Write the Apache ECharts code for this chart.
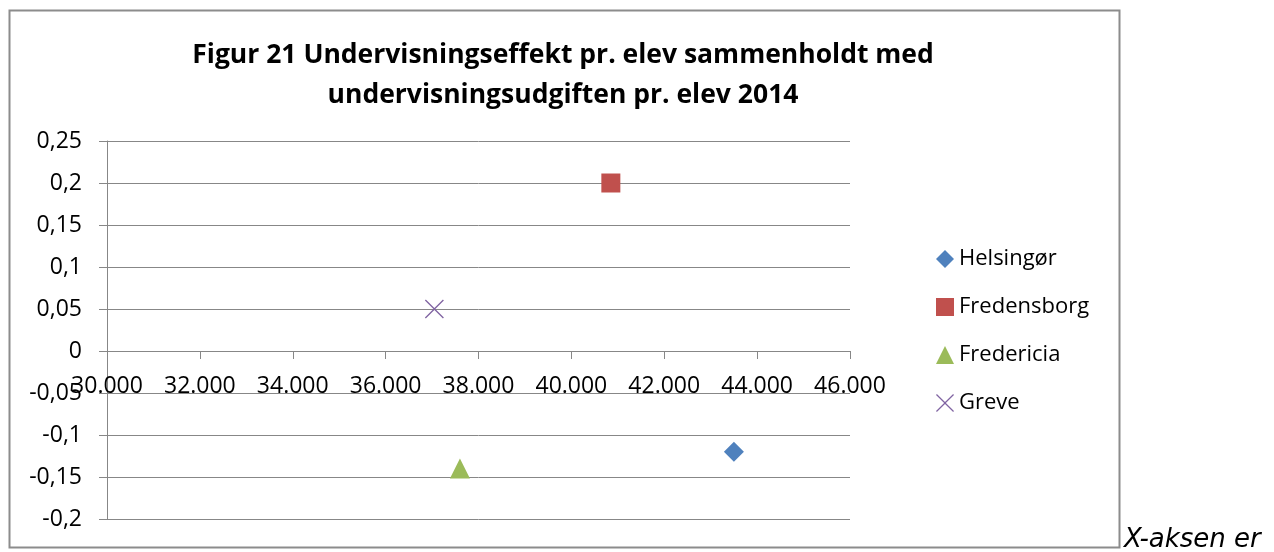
<!DOCTYPE html>
<html>
<head>
<meta charset="utf-8">
<script src="https://cdn.jsdelivr.net/npm/echarts@6/dist/echarts.min.js"></script>
<style>
  html, body { margin: 0; padding: 0; background: #fff; }
  #chart { width: 1274px; height: 552px; }
</style>
</head>
<body>
<div id="chart"></div>
<script>
    var fontFamily = 'Open Sans, Noto Sans, sans-serif';

    // data
    var seriesNames = ['Helsingør', 'Fredensborg', 'Fredericia', 'Greve'];
    var udgiftPrElev = [43500, 40850, 37600, 37050];        // x: undervisningsudgift pr. elev
    var effektPrElev = [-0.12, 0.2, -0.14, 0.05];           // y: undervisningseffekt pr. elev
    var xMin = 30000, xMax = 46000, xStep = 2000;
    var yMin = -0.2, yMax = 0.25, yStep = 0.05;
    var colors = ['#4F81BD', '#C0504D', '#9BBB59', '#8064A2'];
    var crossPath = 'path://M0,1L1,0L10,9L19,0L20,1L11,10L20,19L19,20L10,11L1,20L0,19L9,10Z';
    var symbols = ['diamond', 'rect', 'triangle', crossPath];
    var symbolSizes = [20, 19, 20, 19];

    var gridColor = '#878787';

    function fmtX(v) {
        var th = Math.floor(v / 1000);
        var rest = String(v % 1000);
        while (rest.length < 3) rest = '0' + rest;
        return th + '.' + rest;
    }

    function fmtY(v) {
        var r = Math.round(v * 100) / 100;
        return String(r).replace('.', ',');
    }

    var series = seriesNames.map(function (name, i) {
        return {
            name: name,
            type: 'scatter',
            symbol: symbols[i],
            symbolSize: symbolSizes[i],
            itemStyle: { color: colors[i], opacity: 1 },
            data: [[udgiftPrElev[i], effektPrElev[i]]],
            z: 5
        };
    });

    var chart = echarts.init(document.getElementById('chart'), null, { renderer: 'canvas' });
    chart.setOption({
        animation: false,
        backgroundColor: '#fff',
        textStyle: { fontFamily: fontFamily },
        title: {
            text: 'Figur 21 Undervisningseffekt pr. elev sammenholdt med\nundervisningsudgiften pr. elev 2014',
            left: 558,
            textAlign: 'center',
            top: 30,
            textStyle: {
                fontFamily: fontFamily,
                fontSize: 26.5,
                fontWeight: 'bold',
                color: '#000',
                lineHeight: 40
            }
        },
        legend: {
            data: seriesNames,
            orient: 'vertical',
            left: 931,
            top: 243,
            itemWidth: 18,
            itemHeight: 18,
            itemGap: 26,
            selectedMode: false,
            textStyle: { fontFamily: fontFamily, fontSize: 22, color: '#000' }
        },
        grid: { left: 107, right: 424, top: 141, bottom: 33, containLabel: false, outerBoundsMode: 'none' },
        xAxis: [{
            // axis line and ticks crossing at y = 0
            type: 'value',
            min: xMin,
            max: xMax,
            interval: xStep,
            axisLine: { onZero: true, lineStyle: { color: gridColor, width: 1 } },
            axisTick: { show: true, length: 8, inside: false, lineStyle: { color: gridColor } },
            axisLabel: { show: false },
            splitLine: { show: false }
        }, {
            // tick labels, lifted up under the zero line
            type: 'value',
            position: 'bottom',
            offset: -168,
            min: xMin,
            max: xMax,
            interval: xStep,
            axisLine: { show: false, onZero: false },
            axisTick: { show: false },
            axisLabel: {
                margin: 24,
                fontSize: 23,
                color: '#000',
                fontFamily: fontFamily,
                formatter: fmtX
            },
            splitLine: { show: false }
        }],
        yAxis: {
            type: 'value',
            min: yMin,
            max: yMax,
            interval: yStep,
            axisLine: { show: true, onZero: false, lineStyle: { color: gridColor, width: 1 } },
            axisTick: { show: true, length: 8, lineStyle: { color: gridColor } },
            axisLabel: {
                margin: 25,
                fontSize: 23,
                color: '#000',
                fontFamily: fontFamily,
                formatter: fmtY
            },
            splitLine: { show: true, lineStyle: { color: gridColor, width: 1 } }
        },
        graphic: [
            {
                type: 'rect',
                shape: { x: 9.5, y: 10.5, width: 1110, height: 537 },
                style: { fill: 'none', stroke: '#8c8c8c', lineWidth: 2 },
                silent: true,
                z: -1
            },
            {
                type: 'text',
                left: 1124,
                top: 527,
                style: {
                    text: 'X-aksen er',
                    font: 'italic 26px "DejaVu Sans"',
                    fill: '#000'
                }
            }
        ],
        series: series
    });
</script>
</body>
</html>
